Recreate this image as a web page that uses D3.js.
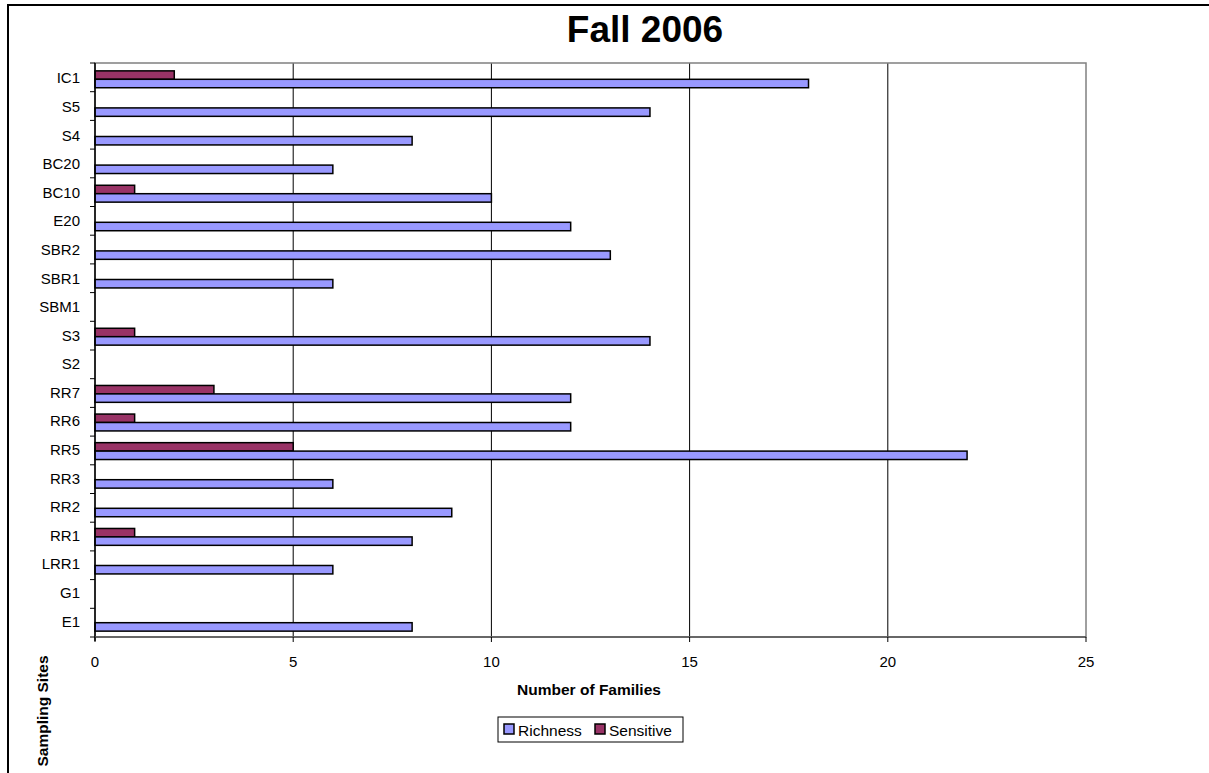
<!DOCTYPE html>
<html>
<head>
<meta charset="utf-8">
<script src="https://cdn.jsdelivr.net/npm/d3@7"></script>
<style>
  body { margin: 0; background: #fff; overflow: hidden; }
  svg { display: block; font-family: "Liberation Sans", Arial, sans-serif; }
</style>
</head>
<body>
<div id="chart"></div>
<script>
// sites listed top to bottom as they appear
var sites = ['IC1', 'S5', 'S4', 'BC20', 'BC10', 'E20', 'SBR2', 'SBR1', 'SBM1', 'S3',
  'S2', 'RR7', 'RR6', 'RR5', 'RR3', 'RR2', 'RR1', 'LRR1', 'G1', 'E1'];
var richness = [18, 14, 8, 6, 10, 12, 13, 6, 0, 14, 0, 12, 12, 22, 6, 9, 8, 6, 0, 8];
var sensitive = [2, 0, 0, 0, 1, 0, 0, 0, 0, 1, 0, 3, 1, 5, 0, 0, 1, 0, 0, 0];
var xTicks = [0, 5, 10, 15, 20, 25];
var seriesNames = ['Sensitive', 'Richness'];
var seriesColors = ['#993366', '#9999ff'];

(function () {
  var W = 1209, H = 773;
  var pLeft = 95, pRight = 1086, pTop = 63, pBottom = 637;

  var svg = d3.select('#chart').append('svg')
    .attr('width', W)
    .attr('height', H);

  // outer frame of the embedded chart (only top and left edges are on screen)
  svg.append('path')
    .attr('d', 'M8,' + (H + 5) + 'V5H' + (W + 5))
    .attr('fill', 'none')
    .attr('stroke', '#000')
    .attr('stroke-width', 2);

  var x = d3.scaleLinear().domain([0, 25]).range([pLeft, pRight]);
  var y = d3.scaleBand().domain(sites).range([pTop, pBottom])
    .paddingInner(0.41).paddingOuter(0.24);
  var ySub = d3.scaleBand().domain(seriesNames).range([0, y.bandwidth()]);

  // gridlines
  svg.selectAll('line.grid')
    .data(xTicks.slice(1, -1))
    .enter()
    .append('line')
    .attr('class', 'grid')
    .attr('x1', function (d) { return x(d); })
    .attr('x2', function (d) { return x(d); })
    .attr('y1', pTop)
    .attr('y2', pBottom)
    .attr('stroke', '#000')
    .attr('stroke-width', 1);

  // plot border
  svg.append('rect')
    .attr('x', pLeft).attr('y', pTop)
    .attr('width', pRight - pLeft).attr('height', pBottom - pTop)
    .attr('fill', 'none')
    .attr('stroke', '#808080')
    .attr('stroke-width', 1.5);

  var rows = sites.map(function (s, i) {
    return { site: s, values: [sensitive[i], richness[i]] };
  });

  var groups = svg.selectAll('g.row')
    .data(rows)
    .enter()
    .append('g')
    .attr('class', 'row')
    .attr('transform', function (d) { return 'translate(0,' + (y(d.site) + 1) + ')'; });

  groups.selectAll('rect')
    .data(function (d) {
      return d.values
        .map(function (v, j) { return { name: seriesNames[j], value: v, color: seriesColors[j] }; })
        .filter(function (b) { return b.value > 0; });
    })
    .enter()
    .append('rect')
    .attr('x', x(0))
    .attr('y', function (d) { return ySub(d.name); })
    .attr('width', function (d) { return x(d.value) - x(0); })
    .attr('height', ySub.bandwidth())
    .attr('fill', function (d) { return d.color; })
    .attr('stroke', '#000')
    .attr('stroke-width', 1.5);

  // y axis: line, ticks at band boundaries, labels
  svg.append('line')
    .attr('x1', pLeft).attr('x2', pLeft)
    .attr('y1', pTop).attr('y2', pBottom + 4)
    .attr('stroke', '#000')
    .attr('stroke-width', 1.5);

  var boundaries = d3.range(sites.length + 1).map(function (i) { return pTop + i * (pBottom - pTop) / sites.length; });
  svg.selectAll('line.ytick')
    .data(boundaries)
    .enter()
    .append('line')
    .attr('x1', pLeft - 5).attr('x2', pLeft)
    .attr('y1', function (d) { return d; })
    .attr('y2', function (d) { return d; })
    .attr('stroke', '#000');

  svg.selectAll('text.ylab')
    .data(sites)
    .enter()
    .append('text')
    .attr('x', 80)
    .attr('y', function (d) { return y(d) + y.bandwidth() / 2 + 5; })
    .attr('text-anchor', 'end')
    .attr('font-size', '15px')
    .text(function (d) { return d; });

  // x axis
  svg.append('line')
    .attr('x1', pLeft).attr('x2', pRight)
    .attr('y1', pBottom).attr('y2', pBottom)
    .attr('stroke', '#555')
    .attr('stroke-width', 1.5);

  svg.selectAll('line.xtick')
    .data(xTicks)
    .enter()
    .append('line')
    .attr('x1', function (d) { return x(d); })
    .attr('x2', function (d) { return x(d); })
    .attr('y1', pBottom)
    .attr('y2', pBottom + 5)
    .attr('stroke', '#000');

  svg.selectAll('text.xlab')
    .data(xTicks)
    .enter()
    .append('text')
    .attr('x', function (d) { return x(d); })
    .attr('y', 667)
    .attr('text-anchor', 'middle')
    .attr('font-size', '15px')
    .text(function (d) { return d; });

  // titles
  svg.append('text')
    .attr('x', 645).attr('y', 42)
    .attr('text-anchor', 'middle')
    .attr('font-size', '37px')
    .attr('font-weight', 'bold')
    .text('Fall 2006');

  svg.append('text')
    .attr('x', 589).attr('y', 695)
    .attr('text-anchor', 'middle')
    .attr('font-size', '15.5px')
    .attr('font-weight', 'bold')
    .text('Number of Families');

  svg.append('text')
    .attr('transform', 'translate(48,711) rotate(-90)')
    .attr('text-anchor', 'middle')
    .attr('font-size', '15.5px')
    .attr('font-weight', 'bold')
    .text('Sampling Sites');

  // legend
  var legend = svg.append('g').attr('transform', 'translate(498,717)');
  legend.append('rect')
    .attr('width', 185).attr('height', 25)
    .attr('fill', '#fff')
    .attr('stroke', '#000');

  var legendItems = [
    { name: 'Richness', color: seriesColors[1], x: 6 },
    { name: 'Sensitive', color: seriesColors[0], x: 97 }
  ];
  var li = legend.selectAll('g.item')
    .data(legendItems)
    .enter()
    .append('g')
    .attr('transform', function (d) { return 'translate(' + d.x + ',0)'; });
  li.append('rect')
    .attr('x', 0).attr('y', 7)
    .attr('width', 10).attr('height', 10)
    .attr('fill', function (d) { return d.color; })
    .attr('stroke', '#000')
    .attr('stroke-width', 1.5);
  li.append('text')
    .attr('x', 14).attr('y', 19)
    .attr('font-size', '15.5px')
    .text(function (d) { return d.name; });
})();
</script>
</body>
</html>
